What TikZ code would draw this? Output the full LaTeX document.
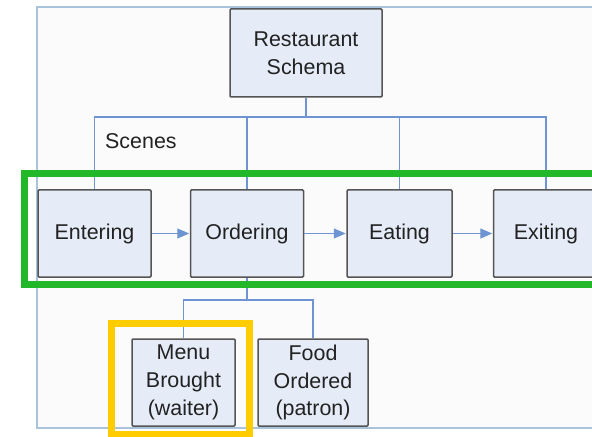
\documentclass[tikz,border=0pt]{standalone}
\usepackage{fontspec}
\setmainfont{Liberation Sans}
\usetikzlibrary{arrows.meta}
\definecolor{boxfill}{HTML}{E5ECF7}
\definecolor{boxline}{HTML}{555555}
\definecolor{conn}{HTML}{6E94D2}
\definecolor{frameline}{HTML}{A9C3DA}
\definecolor{framefill}{HTML}{FBFBFB}
\definecolor{hlgreen}{HTML}{22B82A}
\definecolor{hlyellow}{HTML}{FFCC00}
\definecolor{txt}{HTML}{222222}
\tikzset{
  schemabox/.style={draw=boxline, line width=1.5bp, fill=boxfill, rounded corners=1bp,
    align=center, inner sep=0pt, text=txt,
    font=\fontsize{21.5}{28}\selectfont},
  link/.style={draw=conn, line width=1.3bp},
  flow/.style={link, -{Triangle[length=12bp,width=10bp]}, shorten >=0.5bp},
  highlight/.style={line width=7bp}
}
\begin{document}
\begin{tikzpicture}[x=1bp,y=-1bp]
\useasboundingbox (0,0) rectangle (592,437);
\clip (0,0) rectangle (592,437);
\fill[white] (0,0) rectangle (592,437);
% outer frame
\draw[frameline, fill=framefill, line width=1.5bp] (37,7) rectangle (640,428);

% nodes
\node[schemabox, minimum width=152bp, minimum height=88bp] (rs) at (306,53) {Restaurant\\Schema};
\node[schemabox, minimum width=113bp, minimum height=87bp] (en) at (94.5,233.5) {Entering};
\node[schemabox, minimum width=113bp, minimum height=87bp] (or) at (247,233.5) {Ordering};
\node[schemabox, minimum width=105bp, minimum height=87bp] (ea) at (399.5,233.5) {Eating};
\node[schemabox, minimum width=105bp, minimum height=87bp] (ex) at (546,233.5) {Exiting};
\node[schemabox, minimum width=103bp, minimum height=87bp] (mb) at (183.5,382.5) {Menu\\Brought\\(waiter)};
\node[schemabox, minimum width=110bp, minimum height=87bp] (fo) at (313,382.5) {Food\\Ordered\\(patron)};

\node[anchor=west, inner sep=0pt, text=txt, font=\fontsize{21.5}{28}\selectfont] (sc) at (105,141) {Scenes};

% bus levels of the tree
\coordinate (bus1) at (0,117);
\coordinate (bus2) at (0,300);

% schema to scenes
\draw[link] (rs.south) -- (rs.south |- bus1) -| (en.north);
\draw[link] (rs.south) -- (rs.south |- bus1) -| (or.north);
\draw[link] (rs.south) -- (rs.south |- bus1) -| (ea.north);
\draw[link] (rs.south) -- (rs.south |- bus1) -| (ex.north);

% ordering to its sub-scenes
\draw[link] (or.south) -- (or.south |- bus2) -| (mb.north);
\draw[link] (or.south) -- (or.south |- bus2) -| (fo.north);

% scene sequence
\draw[flow] (en.east) -- (or.west);
\draw[flow] (or.east) -- (ea.west);
\draw[flow] (ea.east) -- (ex.west);

% highlights
\draw[hlgreen, highlight] (24,173.5) rectangle (640,284.5);
\draw[hlyellow, highlight] (111,323.5) rectangle (249,434);
\end{tikzpicture}
\end{document}
